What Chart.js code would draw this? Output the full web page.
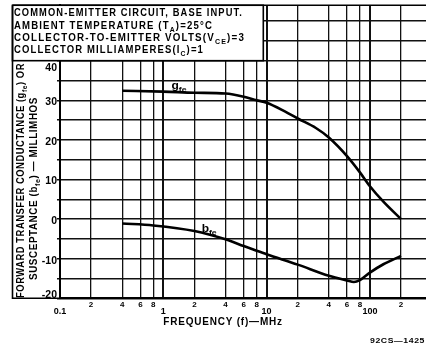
<!DOCTYPE html>
<html><head><meta charset="utf-8">
<script src="https://cdn.jsdelivr.net/npm/chart.js@4.4.1/dist/chart.umd.min.js"></script>
<style>html,body{margin:0;padding:0;background:#fff;}</style>
</head><body>
<canvas id="c" width="426" height="349"></canvas>
<script>
// ---- data ----
const xTickValues = [0.1, 0.2, 0.4, 0.6, 0.8, 1, 2, 4, 6, 8, 10, 20, 40, 60, 80, 100, 200];
const xTickLabels = ['0.1', '2', '4', '6', '8', '1', '2', '4', '6', '8', '10', '2', '4', '6', '8', '100', '2'];
const decadeValues = [0.1, 1, 10, 100];
const yGridValues = [-20, -15, -10, -5, 0, 5, 10, 15, 20, 25, 30, 35, 40, 45, 50];
const yLabelValues = [-20, -10, 0, 10, 20, 30, 40];
const gfeFreq = [0.4, 1, 2, 4, 6, 8, 10, 15, 20, 30, 40, 60, 80, 100, 135, 200];
const gfeValues = [32.4, 32.2, 31.9, 31.7, 30.9, 30.0, 29.4, 27.2, 25.4, 23.0, 20.6, 15.9, 11.8, 8.3, 4.4, 0];
const bfeFreq = [0.4, 0.8, 2, 4, 6, 8, 10, 20, 40, 60, 70, 80, 100, 135, 200];
const bfeValues = [-1.1, -1.6, -3.0, -5.1, -6.8, -8.0, -8.9, -11.5, -14.3, -15.5, -15.9, -15.4, -13.5, -11.4, -9.3];

const FONT = "'Liberation Sans', Arial, sans-serif";

function drawRich(ctx, segs, x, y, size, targetW, rot, spacing) {
  const sp = spacing || 0;
  ctx.save();
  ctx.letterSpacing = sp + 'px';
  let w = 0;
  segs.forEach(s => { ctx.font = 'bold ' + (s.sub ? size * 0.72 : size) + 'px ' + FONT; w += ctx.measureText(s.t).width; });
  const sx = targetW ? targetW / w : 1;
  ctx.translate(x, y);
  if (rot) ctx.rotate(rot);
  ctx.scale(sx, 1);
  ctx.fillStyle = '#000';
  ctx.textBaseline = 'alphabetic';
  ctx.textAlign = 'left';
  let cx = 0;
  segs.forEach(s => {
    ctx.font = 'bold ' + (s.sub ? size * 0.72 : size) + 'px ' + FONT;
    ctx.fillText(s.t, cx, s.sub ? size * 0.3 : 0);
    cx += ctx.measureText(s.t).width;
  });
  ctx.restore();
}

const decor = {
  id: 'decor',
  beforeDraw(chart) {
    const c = chart.ctx;
    c.save(); c.fillStyle = '#fff'; c.fillRect(0, 0, chart.width, chart.height); c.restore();
  },
  afterDraw(chart) {
    const c = chart.ctx, a = chart.chartArea;
    const xs = chart.scales.x, ys = chart.scales.y;
    c.save();
    c.strokeStyle = '#000';
    c.lineWidth = 1.6;
    c.beginPath(); c.moveTo(12.5, a.top); c.lineTo(a.right, a.top); c.stroke();
    c.fillStyle = '#fff';
    const hb = ys.getPixelForValue(40);
    c.fillRect(12.5, a.top, 263.3 - 12.5, hb - a.top);
    c.strokeRect(12.5, a.top, 263.3 - 12.5, hb - a.top);
    c.beginPath(); c.moveTo(12.5, a.top); c.lineTo(12.5, a.bottom); c.lineTo(a.left, a.bottom); c.stroke();
    c.restore();

    const hdr = [
      [[{t: 'COMMON-EMITTER CIRCUIT, BASE INPUT.'}], 16.2, 229],
      [[{t: 'AMBIENT TEMPERATURE (T'}, {t: 'A', sub: 1}, {t: ')=25°C'}], 28.5, 199],
      [[{t: 'COLLECTOR-TO-EMITTER VOLTS(V'}, {t: 'CE', sub: 1}, {t: ')=3'}], 40.5, 231],
      [[{t: 'COLLECTOR MILLIAMPERES(I'}, {t: 'C', sub: 1}, {t: ')=1'}], 52.5, 190]
    ];
    hdr.forEach(h => drawRich(c, h[0], 14, h[1], 10, h[2], 0, 1.2));

    drawRich(c, [{t: 'FORWARD TRANSFER CONDUCTANCE (g'}, {t: 'fe', sub: 1}, {t: ') OR'}], 23.6, 298, 10, 235, -Math.PI / 2, 0.6);
    drawRich(c, [{t: 'SUSCEPTANCE (b'}, {t: 'fe', sub: 1}, {t: ') — MILLIMHOS'}], 36.6, 280, 10, 183, -Math.PI / 2, 0.6);

    drawRich(c, [{t: 'FREQUENCY (f)—MHz'}], 163.3, 325, 10, 119.5, 0, 0.8);
    drawRich(c, [{t: '92CS—1425'}], 370, 343, 7.5, 55, 0, 0.5);

    drawRich(c, [{t: 'g'}, {t: 'fe', sub: 1}], xs.getPixelForValue(1.2), ys.getPixelForValue(32.9), 10, 15);
    drawRich(c, [{t: 'b'}, {t: 'fe', sub: 1}], xs.getPixelForValue(2.35), ys.getPixelForValue(-3.2), 10, 15);
  }
};

new Chart(document.getElementById('c'), {
  type: 'line',
  data: {
    datasets: [
      {label: 'gfe', data: gfeFreq.map((f, i) => ({x: f, y: gfeValues[i]})), borderColor: '#000', borderWidth: 2.6, pointRadius: 0, cubicInterpolationMode: 'monotone', fill: false},
      {label: 'bfe', data: bfeFreq.map((f, i) => ({x: f, y: bfeValues[i]})), borderColor: '#000', borderWidth: 2.6, pointRadius: 0, cubicInterpolationMode: 'monotone', fill: false}
    ]
  },
  options: {
    responsive: false, animation: false, devicePixelRatio: 1,
    layout: {padding: {top: 5, left: 0, right: 0, bottom: 0}},
    plugins: {legend: {display: false}, tooltip: {enabled: false}},
    scales: {
      x: {
        type: 'logarithmic', min: 0.1, max: 349,
        afterBuildTicks: s => { s.ticks = xTickValues.map(v => ({value: v})); },
        afterFit: s => { s.height = 50.7; },
        grid: {color: '#111', lineWidth: ctx => (ctx.tick && decadeValues.includes(ctx.tick.value)) ? 2 : 1.3, drawTicks: false},
        border: {display: true, color: '#000', width: 2},
        ticks: {
          autoSkip: false, maxRotation: 0, padding: 2, color: '#000',
          font: ctx => (ctx.tick && decadeValues.includes(ctx.tick.value)) ? {family: FONT, size: 9, weight: 'bold', lineHeight: 0.85} : {family: FONT, size: 8, weight: 'bold', lineHeight: 1},
          callback: (v, i) => decadeValues.includes(xTickValues[i]) ? ['', xTickLabels[i]] : xTickLabels[i]
        }
      },
      y: {
        min: -20, max: 54,
        afterBuildTicks: s => { s.ticks = yGridValues.map(v => ({value: v})); },
        afterFit: s => { s.width = 60; },
        grid: {color: '#111', lineWidth: 1.4, drawTicks: true, tickLength: 3},
        border: {display: true, color: '#000', width: 2},
        ticks: {
          autoSkip: false, padding: 0, labelOffset: 2, color: '#000',
          font: {family: FONT, size: 10.5, weight: 'bold', lineHeight: 1},
          callback: v => {
            if (!yLabelValues.includes(v)) return '';
            if (v === yLabelValues[yLabelValues.length - 1]) return ['', String(v)];
            if (v === yLabelValues[0]) return [String(v), ''];
            return String(v);
          }
        }
      }
    }
  },
  plugins: [decor]
});
</script>
</body></html>
